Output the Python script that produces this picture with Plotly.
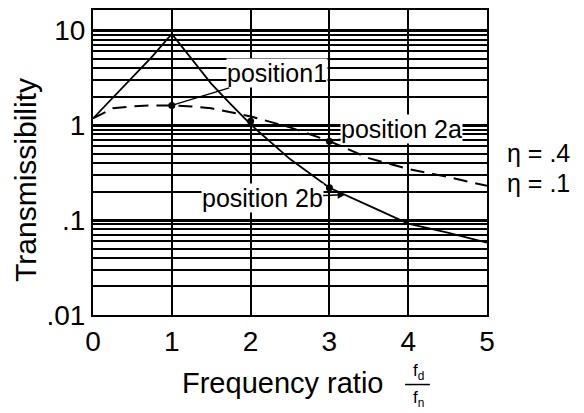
import plotly.graph_objects as go
import math

# Data
freq_ratio = [0, 0.25, 0.5, 0.75, 1.0, 1.25, 1.5, 1.75, 2.0, 2.5, 3.0, 3.5, 4.0, 4.5, 5.0]
trans_eta_01 = [1.18, 1.96, 3.18, 5.28, 9.2, 5.03, 2.75, 1.66, 1.02, 0.44, 0.219, 0.142, 0.092, 0.074, 0.058]
trans_eta_04 = [1.18, 1.51, 1.58, 1.62, 1.62, 1.58, 1.51, 1.37, 1.24, 0.95, 0.68, 0.45, 0.346, 0.285, 0.23]

pos_x = [1, 2, 3, 3]
pos_y = [1.62, 1.1, 0.68, 0.219]

y_tickvals = [0.01, 0.1, 1, 10]
y_ticktext = [".01", ".1", "1", "10"]
x_tickvals = [0, 1, 2, 3, 4, 5]

FONT = "Liberation Sans, Arial, sans-serif"
BLACK = "black"

fig = go.Figure()
fig.add_trace(go.Scatter(x=freq_ratio, y=trans_eta_01, mode="lines",
                         line=dict(color=BLACK, width=1.8), name="η = .1"))
fig.add_trace(go.Scatter(x=freq_ratio, y=trans_eta_04, mode="lines",
                         line=dict(color=BLACK, width=2, dash="14px,8px"), name="η = .4"))
fig.add_trace(go.Scatter(x=pos_x, y=pos_y, mode="markers",
                         marker=dict(color=BLACK, size=7), showlegend=False))

ann_font = dict(family=FONT, size=25, color=BLACK)
fig.add_annotation(x=1, y=math.log10(1.62), xref="x", yref="y", text="position1",
                   showarrow=True, arrowhead=0, arrowwidth=1.5, arrowcolor=BLACK,
                   ax=105, ay=-32, bgcolor="white", font=ann_font, borderpad=0)
fig.add_annotation(x=3, y=math.log10(0.68), xref="x", yref="y", text="position 2a",
                   showarrow=True, arrowhead=0, arrowwidth=1.5, arrowcolor=BLACK,
                   ax=72, ay=-12, bgcolor="white", font=ann_font, borderpad=0)
fig.add_annotation(x=3.2, y=math.log10(0.185), xref="x", yref="y", text="position 2b",
                   showarrow=True, arrowhead=2, arrowwidth=1.5, arrowcolor=BLACK,
                   ax=-83, ay=3, bgcolor="white", font=ann_font, borderpad=0)

# legend-like labels on the right
for txt, yy in (("η = .4", 0.531), ("η = .1", 0.433)):
    fig.add_annotation(x=1.046, y=yy, xref="paper", yref="paper", text=txt,
                       showarrow=False, xanchor="left", yanchor="middle",
                       font=dict(family=FONT, size=25, color=BLACK))

# y-axis title
fig.add_annotation(x=-0.170, y=0.443, xref="paper", yref="paper", text="Transmissibility",
                   textangle=-90, showarrow=False, xanchor="center", yanchor="middle",
                   font=dict(family=FONT, size=30, color=BLACK))

# x-axis title with fraction
fig.add_annotation(x=0.482, y=-0.2215, xref="paper", yref="paper", text="Frequency ratio",
                   showarrow=False, xanchor="center", yanchor="middle",
                   font=dict(family=FONT, size=29, color=BLACK))
fig.add_annotation(x=0.826, y=-0.186, xref="paper", yref="paper", text="f<sub>d</sub>",
                   showarrow=False, xanchor="center", yanchor="middle",
                   font=dict(family=FONT, size=17, color=BLACK))
fig.add_annotation(x=0.826, y=-0.277, xref="paper", yref="paper", text="f<sub>n</sub>",
                   showarrow=False, xanchor="center", yanchor="middle",
                   font=dict(family=FONT, size=17, color=BLACK))
fig.add_shape(type="line", xref="paper", yref="paper", x0=0.792, x1=0.855, y0=-0.228, y1=-0.228,
              line=dict(color=BLACK, width=1.5))

fig.update_xaxes(range=[0, 5], tickvals=x_tickvals, showgrid=True, gridcolor=BLACK, gridwidth=2,
                 showline=True, linecolor=BLACK, linewidth=2, mirror=True, zeroline=False,
                 ticks="", tickfont=dict(family=FONT, size=28, color=BLACK))
fig.update_yaxes(type="log", range=[-2, 1.215], tickvals=y_tickvals, ticktext=y_ticktext,
                 showgrid=True, gridcolor=BLACK, gridwidth=2.5,
                 minor=dict(dtick="D1", showgrid=True, gridcolor=BLACK, gridwidth=2, ticks=""),
                 showline=True, linecolor=BLACK, linewidth=2, mirror=True, zeroline=False,
                 ticks="", tickfont=dict(family=FONT, size=28, color=BLACK))

fig.update_layout(width=584, height=413, margin=dict(l=85, r=105, t=0, b=106),
                  plot_bgcolor="white", paper_bgcolor="white", showlegend=False,
                  font=dict(family=FONT, color=BLACK))

fig.write_html("out.html")
